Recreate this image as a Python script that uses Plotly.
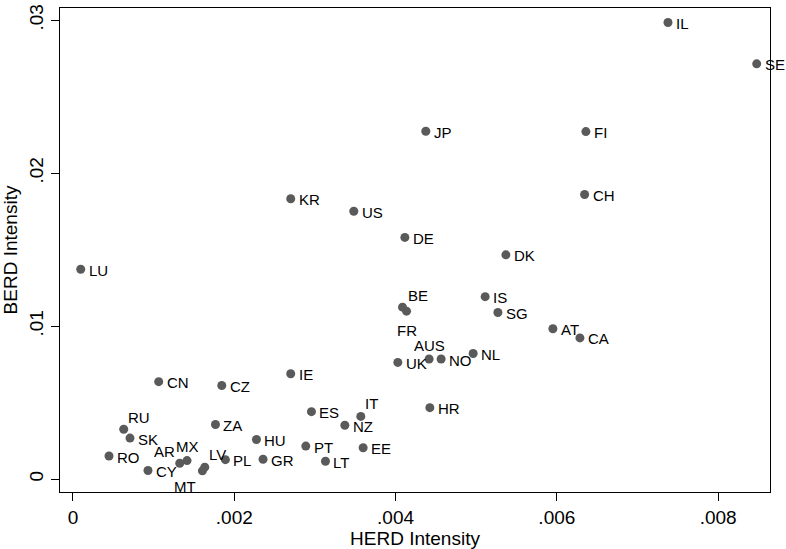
import plotly.graph_objects as go

# ---- data ----
countries = ["IL", "SE", "JP", "FI", "CH", "KR", "US", "DE", "DK", "LU",
             "BE", "FR", "IS", "SG", "AT", "CA", "AUS", "NO", "NL", "UK",
             "HR", "CN", "CZ", "IE", "RU", "SK", "RO", "CY", "AR", "MX",
             "MT", "LV", "PL", "ZA", "HU", "GR", "PT", "LT", "ES", "NZ",
             "IT", "EE"]
herd = [0.007378, 0.008478, 0.004375, 0.006360, 0.006344, 0.002700, 0.003482, 0.004115, 0.005368, 0.000096,
        0.004086, 0.004136, 0.005111, 0.005269, 0.005951, 0.006286, 0.004416, 0.004565, 0.004962, 0.004028,
        0.004425, 0.001063, 0.001845, 0.002700, 0.000629, 0.000707, 0.000447, 0.000930, 0.001324, 0.001414,
        0.001605, 0.001634, 0.001890, 0.001767, 0.002275, 0.002357, 0.002887, 0.003131, 0.002957, 0.003371,
        0.003569, 0.003598]
berd = [0.02985, 0.02715, 0.02274, 0.02272, 0.01861, 0.01833, 0.01751, 0.01580, 0.01466, 0.01372,
        0.01124, 0.01098, 0.01193, 0.01089, 0.00983, 0.00923, 0.00785, 0.00785, 0.00821, 0.00763,
        0.00467, 0.00637, 0.00612, 0.00689, 0.00326, 0.00268, 0.00151, 0.00056, 0.00104, 0.00121,
        0.00054, 0.00078, 0.00127, 0.00357, 0.00259, 0.00130, 0.00216, 0.00117, 0.00441, 0.00352,
        0.00410, 0.00205]

x_tickvals = [0, 0.002, 0.004, 0.006, 0.008]
x_ticktext = ["0", ".002", ".004", ".006", ".008"]
y_tickvals = [0, 0.01, 0.02, 0.03]
y_ticktext = ["0", ".01", ".02", ".03"]

# ---- label placement styles (clock positions of the original) ----
default_pos = ("left", 6, -1)
label_pos = {
    "BE": ("left", 3, 12),
    "FR": ("center", 0, -19),
    "AUS": ("center", 0, 14),
    "RU": ("left", 2, 12),
    "AR": ("right", -3, 12),
    "MX": ("center", 0, 14),
    "LV": ("left", 2, 13),
    "MT": ("right", -4, -16),
    "IT": ("left", 2, 13),
}

fig = go.Figure()
fig.add_trace(go.Scatter(
    x=herd, y=berd, mode="markers",
    marker=dict(size=9, color="#5a5a5a", line=dict(width=0)),
    hoverinfo="text", text=countries, showlegend=False, cliponaxis=False,
))

annotations = []
for c, xv, yv in zip(countries, herd, berd):
    anchor, dx, dy = label_pos.get(c, default_pos)
    annotations.append(dict(
        x=xv, y=yv, xref="x", yref="y", text=c, showarrow=False,
        xanchor=anchor, yanchor="middle", xshift=dx, yshift=dy,
        font=dict(family="Liberation Sans, Arial", size=15, color="black"),
    ))

font_tick = dict(family="Liberation Sans, Arial", size=19, color="black")
font_title = dict(family="Liberation Sans, Arial", size=19, color="black")

fig.update_layout(
    width=786, height=549,
    margin=dict(l=60, r=16, t=4, b=57),
    paper_bgcolor="white", plot_bgcolor="white",
    annotations=annotations,
    font=font_tick,
    xaxis=dict(
        range=[-0.000161, 0.008643],
        tickvals=x_tickvals, ticktext=x_ticktext,
        ticks="outside", ticklen=8, tickwidth=1, tickcolor="black",
        showline=True, linecolor="black", linewidth=1, mirror=True,
        showgrid=False, zeroline=False,
        tickfont=font_tick,
        title=dict(text="HERD Intensity", font=font_title, standoff=0),
    ),
    yaxis=dict(
        range=[-0.000843, 0.03080],
        tickvals=y_tickvals, ticktext=y_ticktext, tickangle=-90,
        ticks="outside", ticklen=8, tickwidth=1, tickcolor="black",
        showline=True, linecolor="black", linewidth=1, mirror=True,
        showgrid=False, zeroline=False,
        tickfont=font_tick,
        title=dict(text="BERD Intensity", font=font_title, standoff=3),
    ),
)

fig.write_html("out.html")
